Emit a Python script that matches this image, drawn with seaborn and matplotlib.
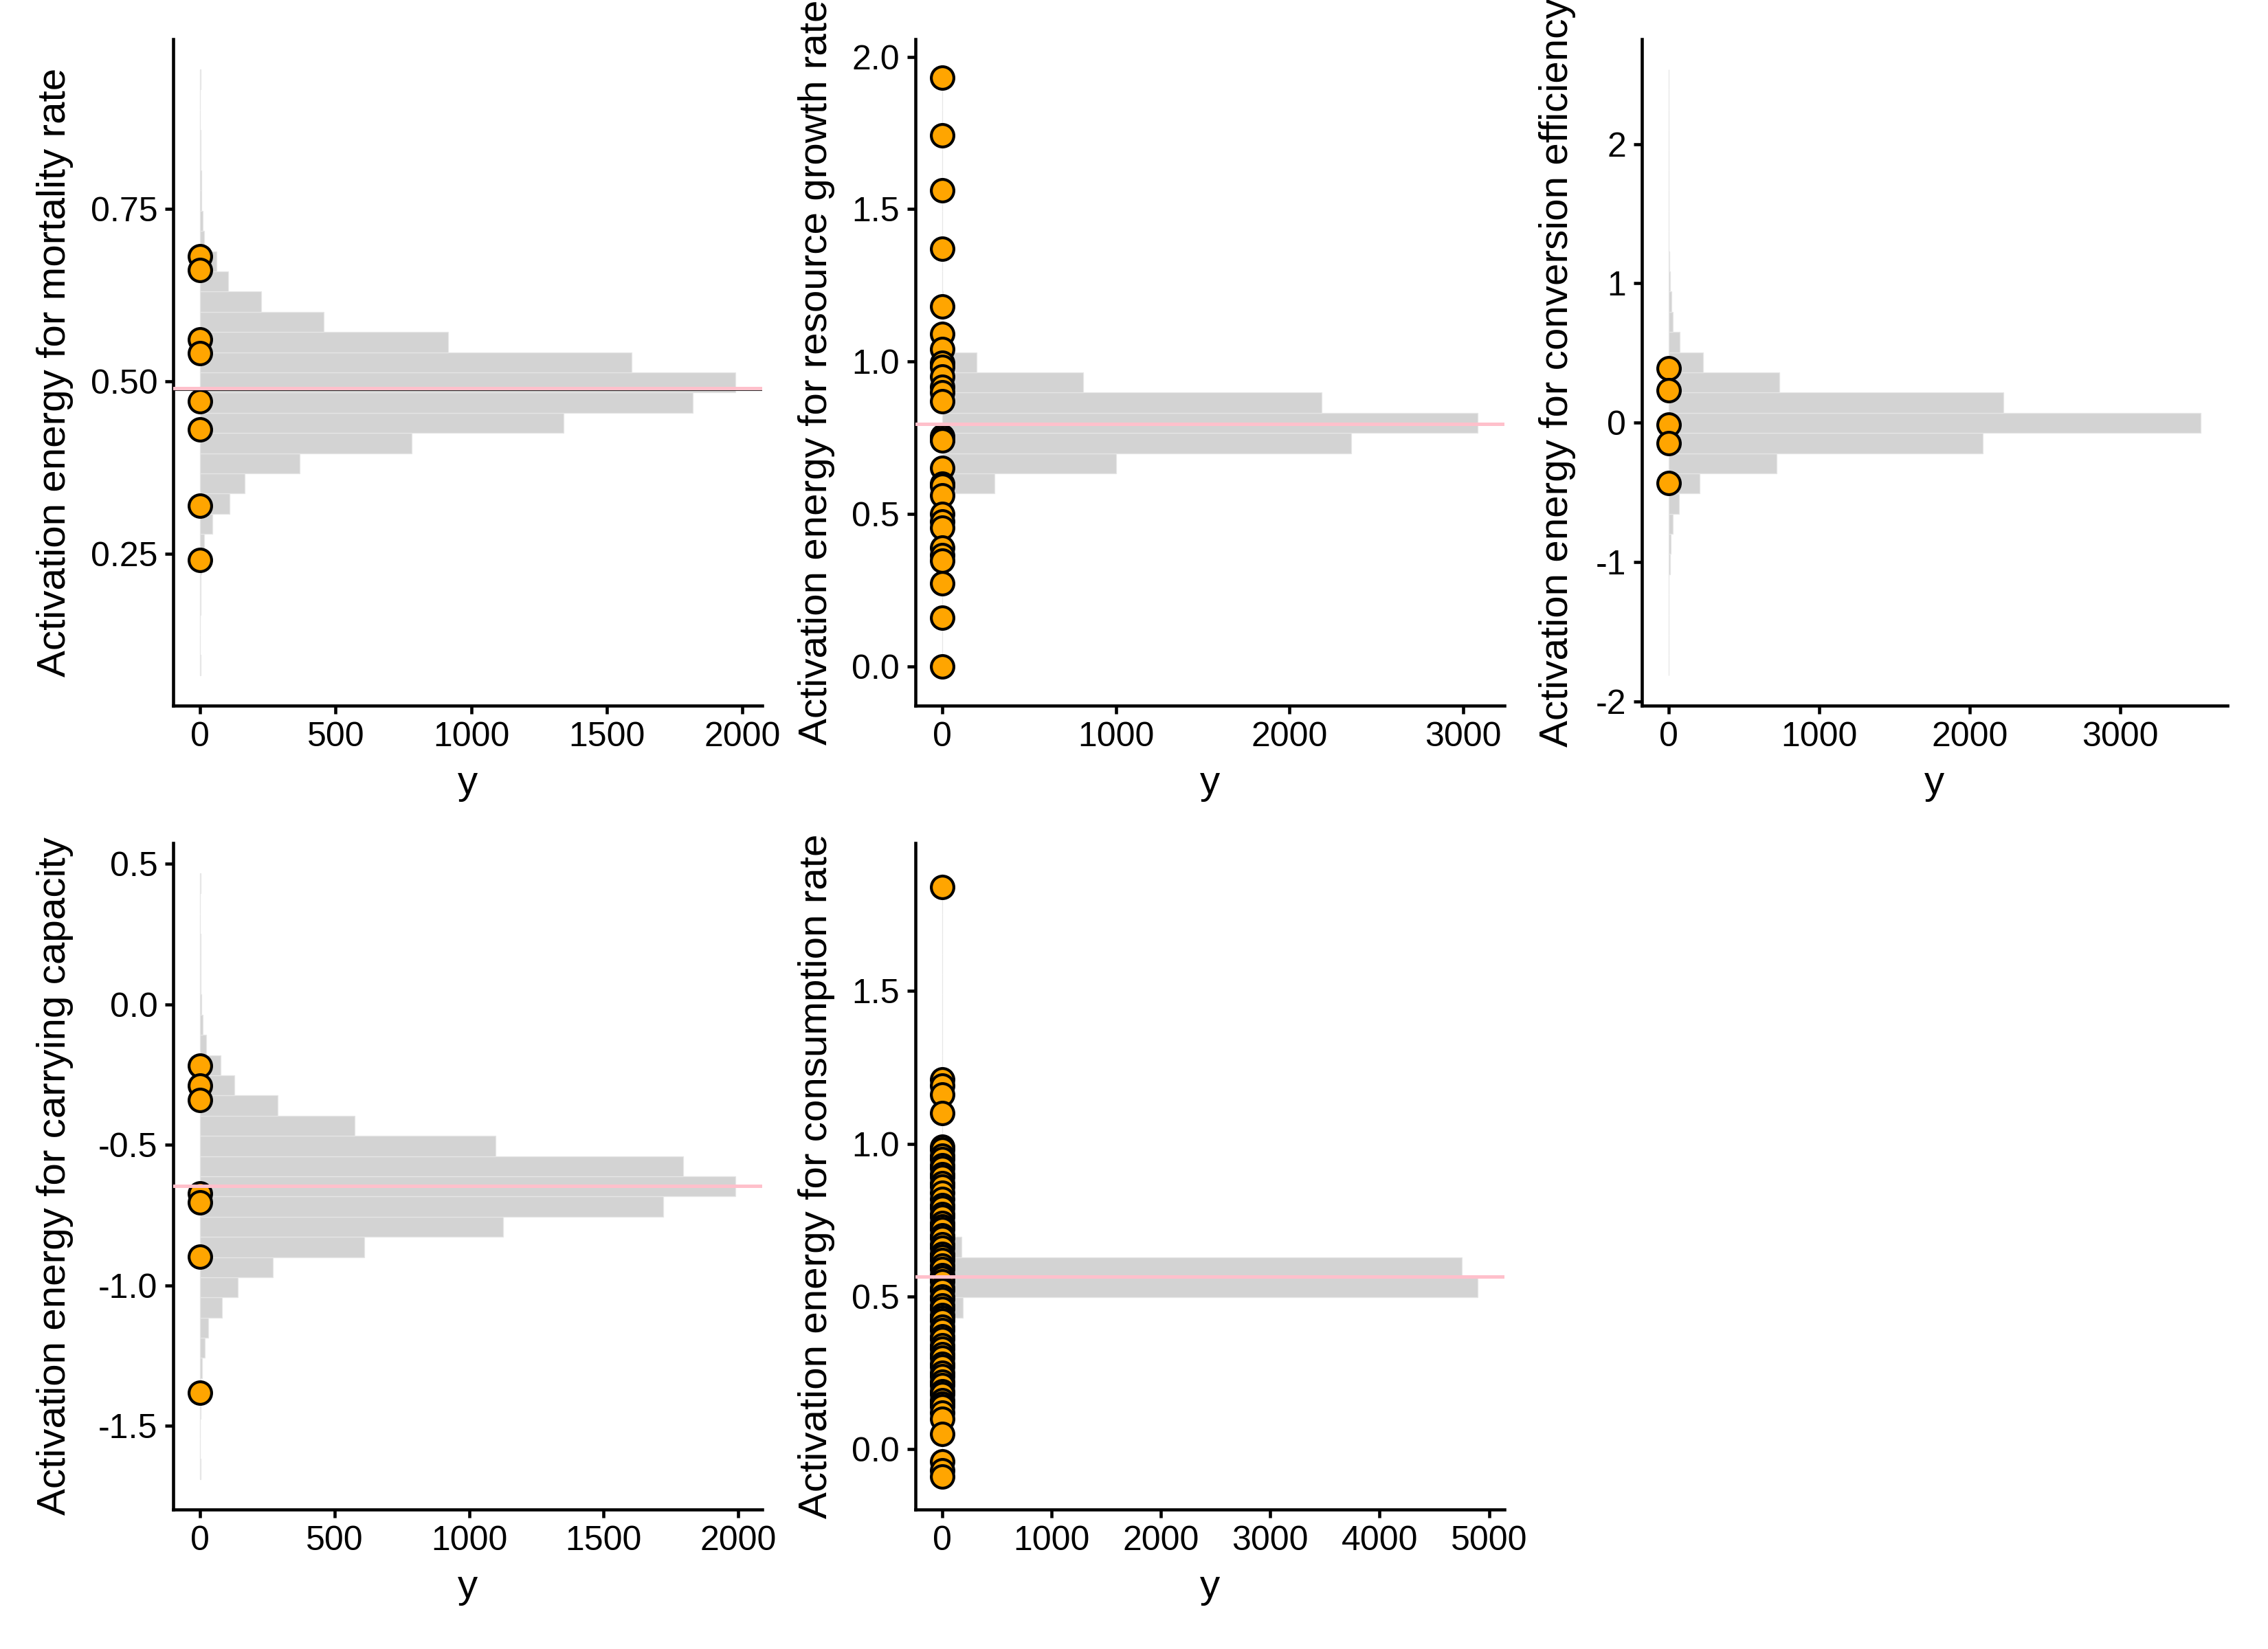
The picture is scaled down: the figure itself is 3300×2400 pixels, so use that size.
import numpy as np
import pandas as pd
import matplotlib.pyplot as plt
import matplotlib.ticker as ticker
import seaborn as sns

# --- axis titles ---
y_titles = ["Activation energy for mortality rate",
            "Activation energy for resource growth rate",
            "Activation energy for conversion efficiency",
            "Activation energy for carrying capacity",
            "Activation energy for consumption rate"]

# --- histogram counts (30 bins, low -> high), lowest edge and bin width ---
mort_lo, mort_w = 0.0742, 0.02926
mort_counts = [1, 0, 0, 1, 2, 4, 15, 44, 107, 164, 366, 780, 1341, 1817, 1975,
               1593, 916, 456, 226, 102, 60, 15, 9, 5, 3, 2, 1, 0, 0, 1]

growth_lo, growth_w = -0.030, 0.0663
growth_counts = [1, 0, 0, 0, 0, 0, 0, 2, 40, 300, 1003, 2354, 3082, 2186, 810,
                 200, 12, 5, 3, 2, 0, 0, 0, 0, 0, 0, 0, 0, 0, 1]

conv_lo, conv_w = -1.814, 0.145
conv_counts = [1, 0, 1, 2, 4, 10, 16, 29, 70, 208, 719, 2088, 3534, 2223, 735,
               229, 76, 31, 18, 9, 5, 3, 2, 1, 1, 1, 0, 0, 0, 1]

carry_lo, carry_w = -1.690, 0.0719
carry_counts = [1, 0, 0, 1, 2, 6, 16, 29, 82, 139, 271, 610, 1127, 1723, 1990,
                1795, 1099, 575, 288, 128, 76, 23, 10, 4, 2, 1, 1, 0, 0, 1]

cons_lo, cons_w = -0.098, 0.0661
cons_counts = [1, 0, 0, 0, 0, 0, 0, 2, 188, 4895, 4751, 180, 2, 0, 0,
               0, 0, 0, 0, 0, 0, 0, 0, 0, 0, 0, 0, 0, 0, 1]

# --- observed points (plotted at count 0) ---
mort_pts = [0.681, 0.661, 0.561, 0.541, 0.471, 0.430, 0.320, 0.241]
growth_pts = [1.931, 1.742, 1.561, 1.370, 1.181, 1.090, 1.041, 0.995, 0.983,
              0.950, 0.916, 0.899, 0.870, 0.755, 0.746, 0.740, 0.650, 0.600,
              0.593, 0.561, 0.500, 0.474, 0.454, 0.390, 0.364, 0.347, 0.272,
              0.160, 0.0]
conv_pts = [0.392, 0.234, -0.015, -0.148, -0.436]
carry_pts = [-0.219, -0.289, -0.340, -0.672, -0.705, -0.899, -1.381]
cons_pts = [1.84, 1.21, 1.19, 1.16, 1.10, 0.99, 0.98, 0.96, 0.95, 0.93, 0.92,
            0.90, 0.89, 0.87, 0.86, 0.84, 0.82, 0.80, 0.79, 0.77, 0.76, 0.74,
            0.73, 0.72, 0.70, 0.69, 0.67, 0.66, 0.64, 0.63, 0.62, 0.60, 0.59,
            0.57, 0.56, 0.55, 0.53, 0.52, 0.50, 0.49, 0.47, 0.46, 0.44, 0.43,
            0.42, 0.40, 0.39, 0.37, 0.36, 0.34, 0.33, 0.31, 0.30, 0.28, 0.27,
            0.25, 0.24, 0.22, 0.21, 0.19, 0.18, 0.16, 0.15, 0.14, 0.12, 0.10,
            0.05, -0.04, -0.07, -0.09]

# --- reference lines (pink, black); None = not drawn ---
mort_lines = (0.490, 0.487)
growth_lines = (0.795, 0.790)
conv_lines = None
carry_lines = (-0.645, -0.652)
cons_lines = (0.566, 0.563)

# --- tick labels ---
mort_yticks = [0.25, 0.50, 0.75]
growth_yticks = [0.0, 0.5, 1.0, 1.5, 2.0]
conv_yticks = [-2, -1, 0, 1, 2]
carry_yticks = [-1.5, -1.0, -0.5, 0.0, 0.5]
cons_yticks = [0.0, 0.5, 1.0, 1.5]
mort_xticks = [0, 500, 1000, 1500, 2000]
growth_xticks = [0, 1000, 2000, 3000]
conv_xticks = [0, 1000, 2000, 3000]
carry_xticks = [0, 500, 1000, 1500, 2000]
cons_xticks = [0, 1000, 2000, 3000, 4000, 5000]

sns.set_style('ticks')
plt.rcParams['font.family'] = ['Liberation Sans', 'DejaVu Sans']
plt.rcParams['axes.unicode_minus'] = False

LW = 1.1


def draw_panel(ax, title, lo, width, counts, pts, lines, yticks, yfmt, xticks, label_x):
    edges = lo + width * np.arange(len(counts) + 1)
    hist_df = pd.DataFrame({'value': (edges[:-1] + edges[1:]) / 2,
                            'count': counts})
    sns.histplot(data=hist_df, y='value', weights='count', bins=list(edges), ax=ax,
                 color='lightgray', edgecolor='#e6e6e6', linewidth=0.3, alpha=1)
    sns.scatterplot(x=[0] * len(pts), y=pts, ax=ax, color='orange',
                    edgecolor='black', s=62, linewidth=1.0, zorder=3, legend=False)
    if lines is not None:
        ax.axhline(lines[1], color='black', lw=0.4, zorder=4)
        ax.axhline(lines[0], color='pink', lw=1.2, zorder=5)

    # ggplot-like 5% expansion
    pad = 0.05 * (edges[-1] - edges[0])
    ax.set_ylim(edges[0] - pad, edges[-1] + pad)
    cmax = max(counts)
    ax.set_xlim(-0.05 * cmax, 1.05 * cmax)

    ax.set_yticks(yticks)
    ax.yaxis.set_major_formatter(ticker.FormatStrFormatter(yfmt))
    ax.set_xticks(xticks)
    ax.xaxis.set_major_formatter(ticker.FormatStrFormatter('%d'))

    ax.set_xlabel('y', fontsize=14, color='black', labelpad=4)
    ax.set_ylabel(title, fontsize=14, color='black')
    ax.yaxis.set_label_coords(label_x, 0.5)
    ax.tick_params(axis='both', labelsize=12, length=2.9, width=LW,
                   color='black', labelcolor='black', pad=2.6)
    for s in ['left', 'bottom']:
        ax.spines[s].set_linewidth(LW)
        ax.spines[s].set_color('black')
    sns.despine(ax=ax)
    ax.grid(False)


fig = plt.figure(figsize=(11, 8), dpi=300)
ax1 = fig.add_axes([0.0765, 0.5721, 0.2595, 0.4042])
ax2 = fig.add_axes([0.4036, 0.5721, 0.2597, 0.4042])
ax3 = fig.add_axes([0.7239, 0.5721, 0.2582, 0.4042])
ax4 = fig.add_axes([0.0765, 0.0846, 0.2595, 0.4042])
ax5 = fig.add_axes([0.4036, 0.0846, 0.2597, 0.4042])

draw_panel(ax1, y_titles[0], mort_lo, mort_w, mort_counts, mort_pts, mort_lines,
           mort_yticks, '%.2f', mort_xticks, -0.170)
draw_panel(ax2, y_titles[1], growth_lo, growth_w, growth_counts, growth_pts, growth_lines,
           growth_yticks, '%.1f', growth_xticks, -0.136)
draw_panel(ax3, y_titles[2], conv_lo, conv_w, conv_counts, conv_pts, conv_lines,
           conv_yticks, '%d', conv_xticks, -0.112)
draw_panel(ax4, y_titles[3], carry_lo, carry_w, carry_counts, carry_pts, carry_lines,
           carry_yticks, '%.1f', carry_xticks, -0.170)
draw_panel(ax5, y_titles[4], cons_lo, cons_w, cons_counts, cons_pts, cons_lines,
           cons_yticks, '%.1f', cons_xticks, -0.136)

fig.savefig('out.png', dpi=300, facecolor='white')
